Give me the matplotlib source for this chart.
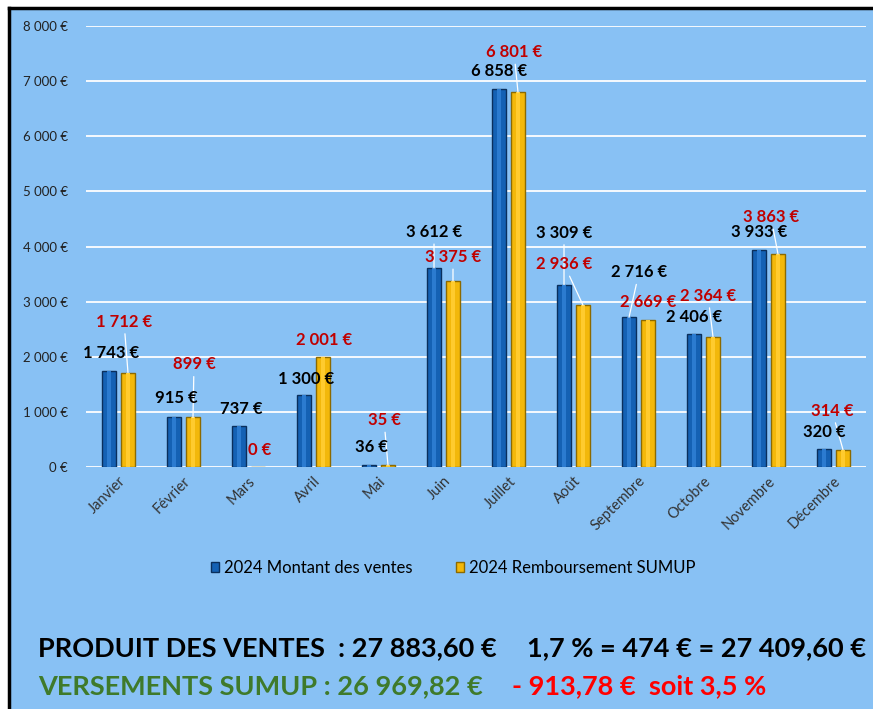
import matplotlib.pyplot as plt
from matplotlib.patches import Patch, Rectangle
from matplotlib.lines import Line2D
from matplotlib.ticker import FuncFormatter

# data
mois = ['Janvier', 'Février', 'Mars', 'Avril', 'Mai', 'Juin', 'Juillet', 'Août',
        'Septembre', 'Octobre', 'Novembre', 'Décembre']
ventes = [1743, 915, 737, 1300, 36, 3612, 6858, 3309, 2716, 2406, 3933, 320]
sumup = [1712, 899, 0, 2001, 35, 3375, 6801, 2936, 2669, 2364, 3863, 314]
y_ticks = [0, 1000, 2000, 3000, 4000, 5000, 6000, 7000, 8000]

# label placement (offset in pixels from the bar top) and leader line flag
off_ventes = [(2, 18), (2, 19), (2, 17), (2, 16), (2, 18), (0, 36), (0, 18), (0, 52),
              (10, 45), (0, 17), (0, 18), (0, 17)]
lead_ventes = [0, 0, 0, 0, 0, 1, 0, 1, 1, 0, 0, 0]
off_sumup = [(-4, 51), (1, 53), (2, 17), (1, 17), (-4, 45), (0, 24), (-4, 40), (-19, 41),
             (0, 18), (-5, 41), (-7, 37), (-11, 39)]
lead_sumup = [1, 1, 0, 0, 1, 1, 1, 1, 0, 1, 1, 1]

BG = '#88C1F4'
BLUE = '#1461B4'
BLUE_EDGE = '#0A2F5C'
GOLD = '#F3B80A'
GOLD_EDGE = '#8C6A00'
RED = '#C00000'

plt.rcParams['font.family'] = ['Lato', 'DejaVu Sans']

fig = plt.figure(figsize=(8.73, 7.09), dpi=100)
fig.patch.set_facecolor('white')
W, H = 873, 709

# background panel with black border on left and top
fig.patches.append(Rectangle((9 / W, 0), 1, (H - 8) / H, transform=fig.transFigure,
                             facecolor=BG, edgecolor='none', zorder=-2))
fig.lines.append(Line2D([9 / W, 1], [(H - 8) / H] * 2, transform=fig.transFigure,
                        color='black', lw=2.5, zorder=-1))
fig.lines.append(Line2D([9 / W] * 2, [0, (H - 8) / H], transform=fig.transFigure,
                        color='black', lw=2.5, zorder=-1))

ax = fig.add_axes([86 / W, (H - 467) / H, 780 / W, 441 / H])
ax.set_facecolor('none')

x = list(range(len(mois)))
w = 0.21
d = 0.146
xb = [i - d for i in x]
xy = [i + d for i in x]
ax.bar(xb, ventes, width=w, color=BLUE, edgecolor=BLUE_EDGE, linewidth=1, zorder=3)
ax.bar(xy, sumup, width=w, color=GOLD, edgecolor=GOLD_EDGE, linewidth=1, zorder=3)
# lighter centre strip for a bit of relief
ax.bar(xb, ventes, width=w * 0.35, color='#2B7BD0', linewidth=0, zorder=4)
ax.bar(xy, sumup, width=w * 0.35, color='#FFCB2E', linewidth=0, zorder=4)

ax.set_xlim(-0.5, 11.5)
ax.set_ylim(0, 8000)
ax.set_yticks(y_ticks)
ax.yaxis.set_major_formatter(FuncFormatter(lambda v, p: f'{int(v):,} €'.replace(',', ' ')))
ax.grid(axis='y', color='white', lw=1.3, zorder=1)
ax.set_axisbelow(True)
for s in ax.spines.values():
    s.set_visible(False)
ax.tick_params(axis='y', length=0, labelsize=9.5, colors='#222222', pad=13)
ax.set_xticks(x)
ax.set_xticklabels(mois, rotation=45, ha='right', rotation_mode='anchor', fontsize=10.5,
                   color='#333333')
ax.tick_params(axis='x', length=0, pad=5)


def labels(xs, vals, offs, leads, color):
    for xi, v, (dx, dy), ld in zip(xs, vals, offs, leads):
        txt = f'{v:,} €'.replace(',', ' ')
        style = dict(xy=(xi, v), xytext=(dx, dy), textcoords='offset pixels',
                     ha='center', va='center', fontsize=12, fontweight='bold')
        if ld:
            # leader line only (invisible text), kept under every label
            ax.annotate(txt, color='none', zorder=5,
                        arrowprops=dict(arrowstyle='-', color='white', lw=0.9,
                                        shrinkA=1, shrinkB=0), **style)
        ax.annotate(txt, color=color, zorder=6, **style)


labels(xb, ventes, off_ventes, lead_ventes, 'black')
labels(xy, sumup, off_sumup, lead_sumup, RED)

handles = [Patch(facecolor=BLUE, edgecolor=BLUE_EDGE, label='2024 Montant des ventes'),
           Patch(facecolor=GOLD, edgecolor=GOLD_EDGE, label='2024 Remboursement SUMUP')]
fig.legend(handles=handles, loc='center', bbox_to_anchor=(453 / W, (H - 568) / H), ncol=2,
           frameon=False, fontsize=12, handlelength=0.5, handleheight=0.6,
           handletextpad=0.3, columnspacing=2.6)

# summary lines
fig.text(38 / W, (H - 648) / H, 'PRODUIT DES VENTES  : 27 883,60 €', fontsize=19.5,
         fontweight='bold', color='black', va='center', ha='left')
fig.text(527 / W, (H - 648) / H, '1,7 % = 474 € = 27 409,60 €', fontsize=19.5,
         fontweight='bold', color='black', va='center', ha='left')
fig.text(38 / W, (H - 686) / H, 'VERSEMENTS SUMUP : 26 969,82 €', fontsize=19.5,
         fontweight='bold', color='#3F7A2B', va='center', ha='left')
fig.text(512 / W, (H - 686) / H, '- 913,78 €  soit 3,5 %', fontsize=19.5,
         fontweight='bold', color='#FF0000', va='center', ha='left')

plt.savefig('out.png', dpi=100)
